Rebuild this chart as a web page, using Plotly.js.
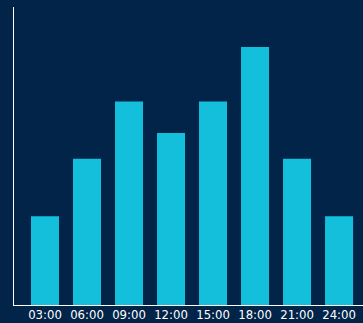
<!DOCTYPE html>
<html>
<head>
<meta charset="utf-8">
<script src="https://cdn.plot.ly/plotly-3.0.1.min.js"></script>
<style>html,body{margin:0;padding:0;background:#022449;}#chart{width:363px;height:323px;}</style>
</head>
<body>
<div id="chart"></div>
<script>
var categories = ["03:00", "06:00", "09:00", "12:00", "15:00", "18:00", "21:00", "24:00"];
var values = [31, 51, 71, 60, 71, 90, 51, 31];

var trace = {
  type: "bar",
  x: categories,
  y: values,
  marker: {color: "#13bfdb"},
  hoverinfo: "none"
};

var layout = {
  width: 363,
  height: 323,
  margin: {l: 14, r: 0, t: 7, b: 18, pad: 0},
  paper_bgcolor: "#022449",
  plot_bgcolor: "#022449",
  bargap: 0.333,
  showlegend: false,
  font: {family: "DejaVu Sans Condensed, DejaVu Sans", size: 13, color: "#ffffff"},
  xaxis: {
    type: "category",
    range: [-0.738, 7.57],
    showline: true,
    linecolor: "#ffffff",
    linewidth: 1,
    showgrid: false,
    zeroline: false,
    ticks: "",
    ticklabelstandoff: -3,
    tickfont: {family: "DejaVu Sans Condensed, DejaVu Sans", size: 13, color: "#ffffff"}
  },
  yaxis: {
    range: [0, 104],
    showline: true,
    linecolor: "#ffffff",
    linewidth: 1,
    showgrid: false,
    zeroline: false,
    ticks: "",
    showticklabels: false
  }
};

Plotly.newPlot("chart", [trace], layout, {displayModeBar: false, staticPlot: true});
</script>
</body>
</html>
